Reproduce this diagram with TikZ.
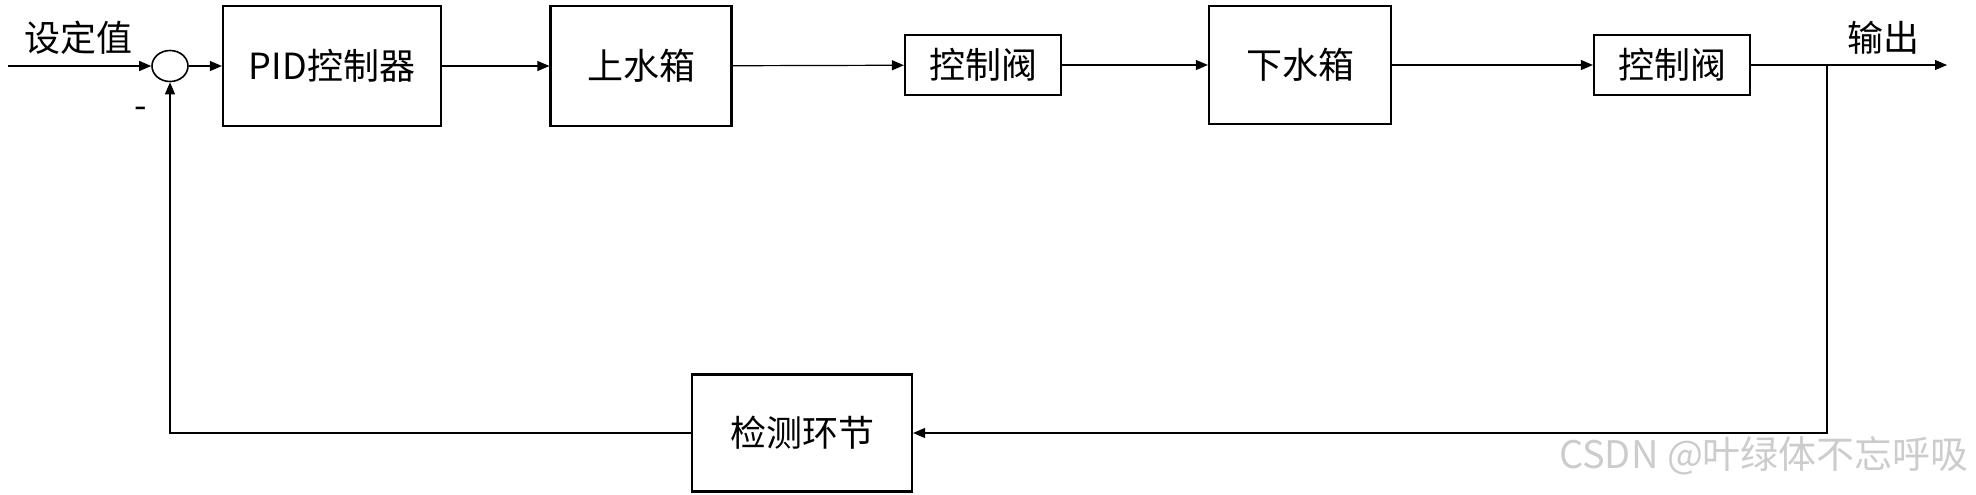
\documentclass[tikz,border=0pt]{standalone}
\usepackage{fontspec}
\newfontfamily\cjk{Noto Sans CJK SC}
\usetikzlibrary{arrows.meta,positioning,shapes.geometric}

\begin{document}
\begin{tikzpicture}[
  x=0.5pt, y=-0.5pt,
  >={Triangle[length=6pt,width=5pt]},
  font=\cjk\fontsize{18}{20}\selectfont,
  blockbox/.style={rectangle, draw, line width=1.1pt, inner sep=2pt},
  sumjunc/.style={ellipse, draw, line width=0.8pt, minimum width=18pt, minimum height=15.5pt, inner sep=0pt},
  conn/.style={->, line width=0.6pt},
  tag/.style={inner sep=0pt},
]
\useasboundingbox (0,0) rectangle (1976,494);

% Forward path
\coordinate (in) at (8,66);
\node[sumjunc] (sum) at (170,66) {};
\node[blockbox, minimum width=109pt, minimum height=60pt] (pid)    at (332,66)  {PID控制器};
\node[blockbox, minimum width=90.5pt, minimum height=60pt] (upper) at (641,66)  {上水箱};
\node[blockbox, minimum width=78pt, minimum height=30pt] (valveA)  at (983,65)  {控制阀};
\node[blockbox, minimum width=91pt, minimum height=59pt] (lower)   at (1300,65) {下水箱};
\node[blockbox, minimum width=78pt, minimum height=30pt] (valveB)  at (1672,65) {控制阀};
\coordinate (out) at (1947,65);
\coordinate (branch) at (1827,65);

% Feedback path
\node[blockbox, minimum width=110pt, minimum height=58.5pt] (sense) at (802,433) {检测环节};

% Labels
\node[tag] (setp) at (79,38)   {设定值};
\node[tag] (outl) at (1883,38) {输出};
\node[tag] (minus) at (141,113) {-};

% Connectors
\draw[conn] (in) -- (sum.west);
\draw[conn] (sum) -- (pid);
\draw[conn] (pid) -- (upper);
\draw[conn] (upper) -- (valveA);
\draw[conn] (valveA) -- (lower);
\draw[conn] (lower) -- (valveB);
\draw[conn] (valveB) -- (out);
\draw[conn] (branch) |- (sense.east);
\draw[conn] (sense.west) -| (sum.south);

% Watermark
\node[tag, text=gray!40, font=\cjk\fontsize{19}{21}\selectfont] (mark) at (1764,456) {CSDN @叶绿体不忘呼吸};

\end{tikzpicture}
\end{document}
